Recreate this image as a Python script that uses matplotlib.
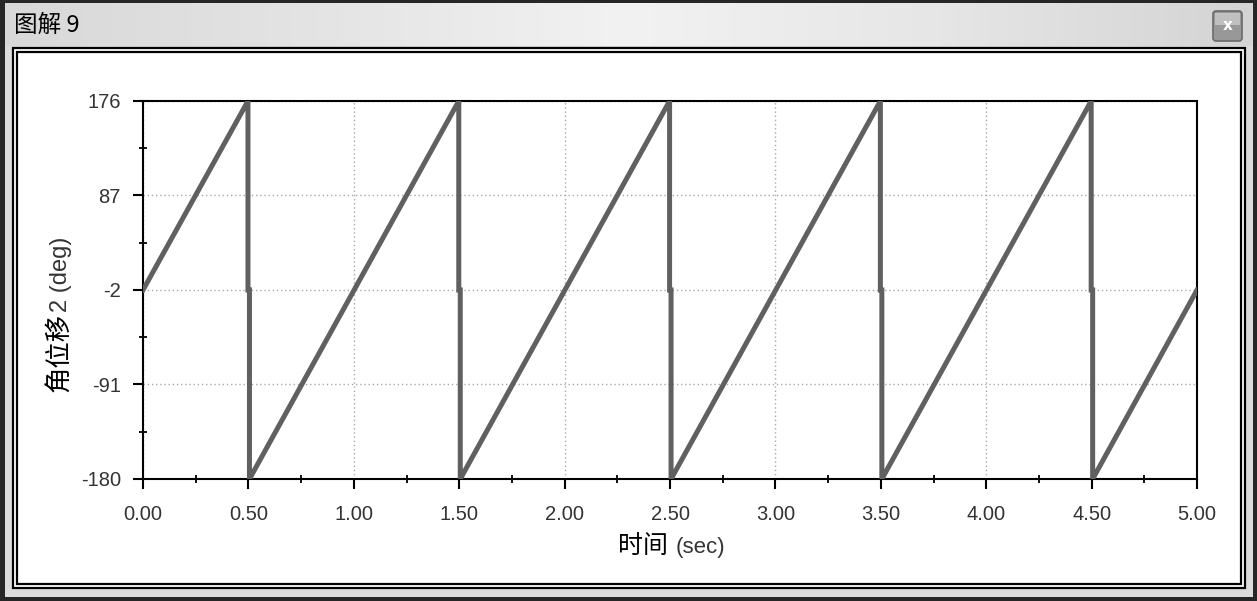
import matplotlib
matplotlib.use("Agg")
import matplotlib.pyplot as plt
import numpy as np
from matplotlib.patches import Rectangle, FancyBboxPatch
from matplotlib.colors import LinearSegmentedColormap

# angle vs time (sawtooth, wraps at +-180)
time_s = [0.0, 0.498, 0.498, 0.505, 0.505,
          1.498, 1.498, 1.505, 1.505,
          2.498, 2.498, 2.505, 2.505,
          3.498, 3.498, 3.505, 3.505,
          4.498, 4.498, 4.505, 4.505,
          5.0]
angle_deg = [-2, 176, -2, -2, -180,
             176, -2, -2, -180,
             176, -2, -2, -180,
             176, -2, -2, -180,
             176, -2, -2, -180,
             -2]

x_ticks = [0.0, 0.5, 1.0, 1.5, 2.0, 2.5, 3.0, 3.5, 4.0, 4.5, 5.0]
x_minor = [0.25, 0.75, 1.25, 1.75, 2.25, 2.75, 3.25, 3.75, 4.25, 4.75]
y_ticks = [-180, -91, -2, 87, 176]
y_minor = [-135.5, -46.5, 42.5, 131.5]

W, H = 1257, 601
fig = plt.figure(figsize=(W / 100, H / 100), dpi=100)

# ---- window chrome, drawn in pixel coords on a background axes
bg = fig.add_axes([0, 0, 1, 1], zorder=0)
bg.set_xlim(0, W)
bg.set_ylim(H, 0)
bg.axis("off")

bg.add_patch(Rectangle((0, 0), W, H, facecolor="#dcdcdc", edgecolor="none"))
tb = LinearSegmentedColormap.from_list(
    "tb", ["#d8d8d8", "#e4e4e4", "#f2f2f2", "#e6e6e6", "#d4d4d4"])
bg.imshow(np.linspace(0, 1, 256)[None, :], cmap=tb, aspect="auto",
          extent=(5, W - 5, 46, 3), zorder=1)
# dark outer border
for r in [(0, 0, W, 3), (0, 0, 5, H), (0, H - 4, W, 4), (W - 4, 0, 4, H)]:
    bg.add_patch(Rectangle(r[:2], r[2], r[3], facecolor="#262626",
                           edgecolor="none", zorder=2))
# double black frame around the plot panel
bg.add_patch(Rectangle((12.5, 47.5), 1232, 540, facecolor="white",
                       edgecolor="black", lw=1.6, zorder=2))
bg.add_patch(Rectangle((16.5, 51.5), 1224, 532, facecolor="white",
                       edgecolor="black", lw=1.6, zorder=2))
# close button
bg.add_patch(FancyBboxPatch((1213, 11), 29, 30,
                            boxstyle="round,pad=0,rounding_size=3",
                            facecolor="#989898", edgecolor="#6a6a6a",
                            lw=1.2, zorder=3))
bg.add_patch(Rectangle((1215, 13), 25, 12, facecolor="#c0c0c0",
                       edgecolor="none", zorder=3))
bg.text(1227.5, 26, "x", color="white", fontsize=11, fontweight="bold",
        ha="center", va="center", family="DejaVu Sans", zorder=4)
bg.text(14, 25, "图解 9", fontsize=17, ha="left", va="center",
        family=["Noto Sans CJK SC", "DejaVu Sans"], color="black", zorder=4)

# ---- the plot
ax = fig.add_axes([143 / W, 1 - 479 / H, (1197 - 143) / W, (479 - 101) / H],
                  zorder=2)
ax.plot(time_s, angle_deg, color="#606060", lw=3.6,
        solid_joinstyle="miter", zorder=3)

ax.set_xlim(0, 5)
ax.set_ylim(-180, 176)
ax.set_xticks(x_ticks)
ax.set_xticklabels([f"{v:.2f}" for v in x_ticks])
ax.set_xticks(x_minor, minor=True)
ax.set_yticks(y_ticks)
ax.set_yticklabels([str(v) for v in y_ticks])
ax.set_yticks(y_minor, minor=True)

ax.grid(True, which="major", linestyle=(0, (1, 2)), color="#a8a8a8", lw=1)
for s in ax.spines.values():
    s.set_linewidth(1.5)
ax.tick_params(which="major", direction="out", length=7, width=1.5,
               labelsize=14.5, labelcolor="#333333")
ax.tick_params(axis="x", which="major", pad=12)
ax.tick_params(axis="y", which="major", pad=9)
ax.tick_params(which="minor", direction="inout", length=6, width=1.3)
for lab in ax.get_xticklabels() + ax.get_yticklabels():
    lab.set_family("Liberation Sans")

# axis titles: larger CJK part, smaller unit part
fig.text(668 / W, 1 - 546 / H, "时间", fontsize=18, ha="right", va="center",
         family="Noto Sans CJK SC")
fig.text(676 / W, 1 - 548 / H, "(sec)", fontsize=16, ha="left",
         va="center", family="Liberation Sans", color="#333333")
fig.text(59 / W, 1 - 392 / H, "角位移", fontsize=19, rotation=90,
         ha="center", va="bottom", family="Noto Sans CJK SC")
fig.text(61 / W, 1 - 312 / H, "2 (deg)", fontsize=17, rotation=90,
         ha="center", va="bottom", family="Liberation Sans", color="#333333")

fig.savefig("out.png", dpi=100)
